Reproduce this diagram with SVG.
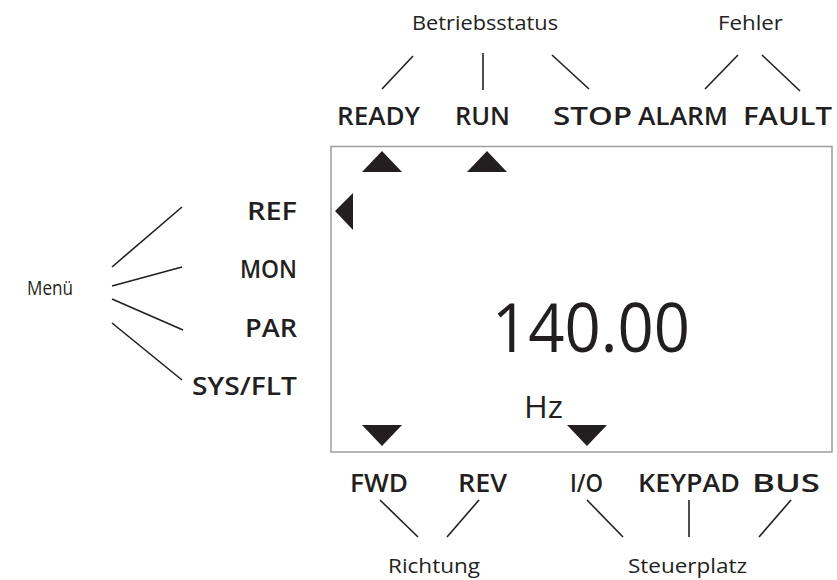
<svg xmlns="http://www.w3.org/2000/svg" width="837" height="580" viewBox="0 0 837 580">
<style>
.lbl{font-family:"Open Sans",Roboto,"Liberation Sans",sans-serif;font-weight:600;font-size:25px;fill:#231f20}
.cap{font-family:"Open Sans","Liberation Sans",sans-serif;font-size:20px;fill:#231f20}
.ln{stroke:#231f20;stroke-width:1.6;fill:none}
.tri{fill:#231f20}
</style>
<rect width="837" height="580" fill="#fff"/>
<g id="display">
<rect x="331" y="146.5" width="501" height="305.5" fill="none" stroke="#9d9d9d" stroke-width="1.5"/>
<text x="492" y="352" font-family="'Open Sans','Liberation Sans',sans-serif" font-size="68" fill="#231f20" textLength="198" lengthAdjust="spacingAndGlyphs">140.00</text>
<text x="524" y="418" font-family="'Open Sans','Liberation Sans',sans-serif" font-size="31" fill="#231f20" textLength="39" lengthAdjust="spacingAndGlyphs">Hz</text>
<polygon class="tri" points="382,151 402,172 362,172"/>
<polygon class="tri" points="487,151 507,172 467,172"/>
<polygon class="tri" points="335,211 353,193 353,230"/>
<polygon class="tri" points="362,425 402,425 382,446"/>
<polygon class="tri" points="567,425 607,425 587,446"/>
</g>
<g id="betriebsstatus"><text class="cap" x="412" y="30" textLength="146" lengthAdjust="spacingAndGlyphs">Betriebsstatus</text></g>
<g id="fehler"><text class="cap" x="718" y="30" textLength="65" lengthAdjust="spacingAndGlyphs">Fehler</text></g>
<g id="menu"><text class="cap" x="27" y="295" font-size="21" textLength="46" lengthAdjust="spacingAndGlyphs">Menü</text></g>
<g id="richtung"><text class="cap" x="388" y="573" textLength="92" lengthAdjust="spacingAndGlyphs">Richtung</text></g>
<g id="steuerplatz"><text class="cap" x="628" y="573" textLength="119" lengthAdjust="spacingAndGlyphs">Steuerplatz</text></g>
<g id="ready"><text class="lbl" x="337" y="125" textLength="83" lengthAdjust="spacingAndGlyphs">READY</text></g>
<g id="run"><text class="lbl" x="455" y="125" textLength="55" lengthAdjust="spacingAndGlyphs">RUN</text></g>
<g id="stop"><text class="lbl" x="553" y="125" textLength="79" lengthAdjust="spacingAndGlyphs">STOP</text></g>
<g id="alarm"><text class="lbl" x="638" y="125" textLength="90" lengthAdjust="spacingAndGlyphs">ALARM</text></g>
<g id="fault"><text class="lbl" x="743" y="125" textLength="89" lengthAdjust="spacingAndGlyphs">FAULT</text></g>
<g id="ref"><text class="lbl" x="247" y="220" textLength="50" lengthAdjust="spacingAndGlyphs">REF</text></g>
<g id="mon"><text class="lbl" x="240" y="278" textLength="57" lengthAdjust="spacingAndGlyphs">MON</text></g>
<g id="par"><text class="lbl" x="245" y="337" textLength="52" lengthAdjust="spacingAndGlyphs">PAR</text></g>
<g id="sysflt"><text class="lbl" x="192" y="395" textLength="105" lengthAdjust="spacingAndGlyphs">SYS/FLT</text></g>
<g id="fwd"><text class="lbl" x="350" y="492" textLength="58" lengthAdjust="spacingAndGlyphs">FWD</text></g>
<g id="rev"><text class="lbl" x="458" y="492" textLength="49" lengthAdjust="spacingAndGlyphs">REV</text></g>
<g id="io"><text class="lbl" x="570" y="492" textLength="33" lengthAdjust="spacingAndGlyphs">I/O</text></g>
<g id="keypad"><text class="lbl" x="638" y="492" textLength="102" lengthAdjust="spacingAndGlyphs">KEYPAD</text></g>
<g id="bus"><text class="lbl" x="752" y="492" textLength="68" lengthAdjust="spacingAndGlyphs">BUS</text></g>
<g id="connectors">
<line class="ln" x1="382" y1="89" x2="413" y2="56"/>
<line class="ln" x1="483" y1="53" x2="483" y2="90"/>
<line class="ln" x1="552" y1="55" x2="589" y2="89"/>
<line class="ln" x1="705" y1="89" x2="738" y2="55"/>
<line class="ln" x1="762" y1="55" x2="800" y2="91"/>
<line class="ln" x1="112" y1="267" x2="182" y2="207"/>
<line class="ln" x1="112" y1="286" x2="182" y2="267"/>
<line class="ln" x1="112" y1="299" x2="183" y2="330"/>
<line class="ln" x1="112" y1="323" x2="182" y2="380"/>
<line class="ln" x1="380" y1="500" x2="418" y2="537"/>
<line class="ln" x1="447" y1="537" x2="479" y2="500"/>
<line class="ln" x1="587" y1="500" x2="623" y2="537"/>
<line class="ln" x1="689" y1="500" x2="689" y2="537"/>
<line class="ln" x1="759" y1="537" x2="791" y2="500"/>
</g>
</svg>
